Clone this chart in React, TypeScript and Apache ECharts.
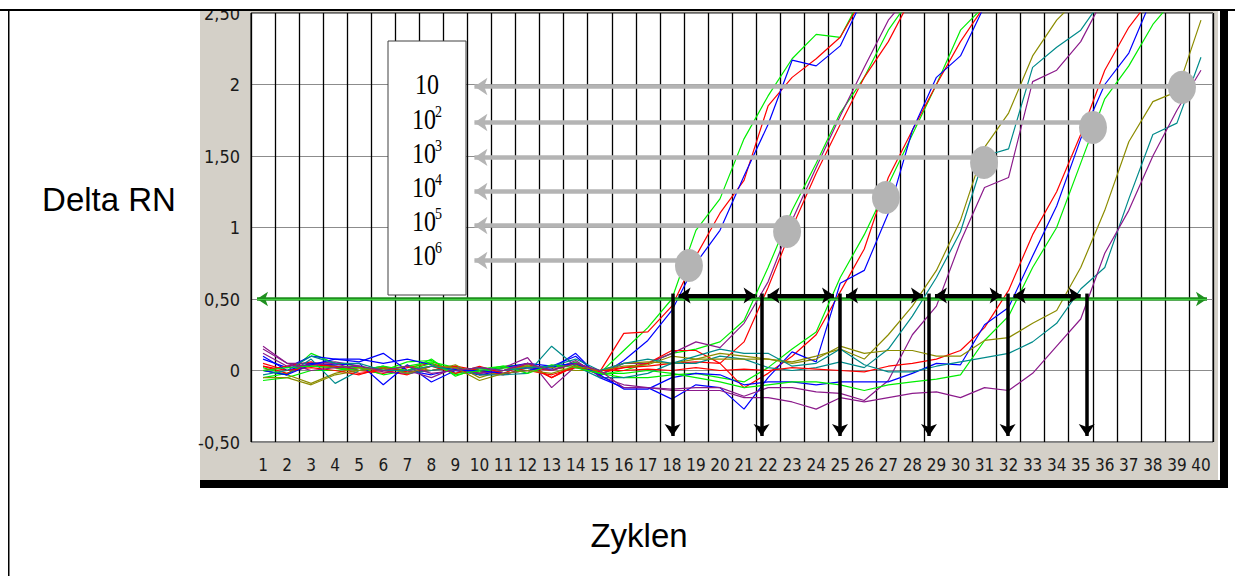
import React, { useEffect, useRef } from "react";
import * as echarts from "echarts";

// ---------- data ----------
const cycleLabels = [
  "1", "2", "3", "4", "5", "6", "7", "8", "9", "10",
  "11", "12", "13", "14", "15", "16", "17", "18", "19", "20",
  "21", "22", "23", "24", "25", "26", "27", "28", "29", "30",
  "31", "32", "33", "34", "35", "36", "37", "38", "39", "40",
];

// 10^6 dilution replicates
const d6Green = [0.02, -0.03, 0.12, 0.05, 0.03, 0.0, 0.06, 0.07, -0.02, 0.01, 0.03, 0.04, 0.0, 0.06, -0.02, 0.14, 0.3, 0.5, 0.98, 1.2, 1.62, 1.92, 2.18, 2.35, 2.33, 2.65];
const d6Red = [0.05, 0.0, 0.03, 0.02, 0.0, -0.02, 0.02, 0.05, 0.0, -0.02, 0.02, 0.03, -0.05, 0.04, -0.01, 0.26, 0.27, 0.45, 0.8, 1.1, 1.33, 1.85, 2.05, 2.18, 2.33, 2.62];
const d6Blue = [0.08, 0.02, 0.1, 0.08, 0.06, 0.12, 0.0, -0.03, 0.01, 0.0, 0.02, 0.05, 0.03, 0.1, -0.04, 0.07, 0.21, 0.42, 0.75, 0.98, 1.36, 1.72, 2.17, 2.13, 2.27, 2.62];
// 10^5
const d5Green = [-0.05, -0.02, 0.05, 0.03, 0.02, -0.03, 0.0, 0.08, -0.04, 0.02, 0.0, 0.03, 0.02, 0.05, -0.03, 0.0, 0.05, 0.12, 0.15, 0.2, 0.35, 0.72, 1.12, 1.45, 1.8, 2.05, 2.38, 2.62];
const d5Red = [0.0, 0.03, 0.06, 0.02, -0.02, 0.0, -0.03, 0.03, 0.02, -0.03, -0.02, 0.05, -0.05, 0.03, -0.02, 0.02, 0.03, 0.05, 0.06, 0.05, 0.2, 0.58, 1.0, 1.38, 1.72, 2.05, 2.3, 2.62];
const d5Purple = [0.17, 0.05, 0.05, 0.06, 0.03, -0.01, -0.02, 0.0, 0.03, -0.02, 0.02, 0.09, -0.12, 0.03, -0.03, 0.05, 0.05, 0.12, 0.2, 0.16, 0.33, 0.62, 1.05, 1.42, 1.78, 2.12, 2.45, 2.65];
// 10^4
const d4Green = [-0.07, -0.05, 0.0, 0.0, 0.02, 0.01, 0.03, 0.06, 0.02, -0.01, 0.02, 0.0, 0.03, 0.04, -0.02, -0.05, -0.05, -0.03, -0.02, -0.05, -0.08, 0.02, 0.15, 0.27, 0.65, 0.95, 1.3, 1.65, 2.0, 2.38, 2.55];
const d4Red = [0.03, -0.02, 0.04, 0.03, 0.0, 0.02, -0.01, 0.0, 0.03, 0.0, -0.03, 0.02, 0.0, 0.05, 0.0, 0.02, 0.05, 0.14, 0.14, 0.05, -0.12, -0.02, 0.1, 0.25, 0.55, 0.85, 1.35, 1.68, 2.0, 2.3, 2.55];
const d4Blue = [0.1, 0.0, 0.05, 0.04, 0.05, -0.1, 0.04, -0.08, 0.0, -0.03, 0.0, 0.02, 0.01, 0.12, -0.05, -0.12, -0.12, -0.2, -0.1, -0.12, -0.27, -0.05, 0.13, 0.06, 0.61, 0.7, 1.1, 1.68, 2.05, 2.2, 2.55];
// 10^3
const d3Olive = [0.0, -0.03, -0.09, -0.02, 0.02, 0.0, 0.03, 0.0, 0.04, -0.05, 0.0, 0.03, 0.02, 0.0, 0.0, 0.03, 0.04, 0.1, 0.08, 0.12, 0.1, 0.08, 0.06, 0.1, 0.15, 0.08, 0.25, 0.45, 0.7, 1.05, 1.56, 1.8, 2.2, 2.45, 2.62];
const d3Teal = [0.0, -0.03, 0.08, -0.09, 0.0, 0.03, -0.02, 0.0, 0.02, -0.03, -0.03, -0.02, 0.17, 0.03, -0.05, -0.05, -0.02, 0.05, 0.05, 0.1, 0.08, 0.02, 0.0, 0.02, 0.06, 0.02, 0.15, 0.38, 0.65, 0.97, 1.5, 1.55, 2.12, 2.26, 2.38, 2.62];
const d3Purple = [0.12, 0.03, 0.04, 0.05, 0.0, 0.02, 0.0, -0.05, 0.02, -0.02, 0.0, 0.05, 0.0, 0.07, -0.04, -0.1, -0.12, -0.13, -0.12, -0.12, -0.18, -0.12, -0.12, -0.15, -0.16, -0.21, -0.07, 0.25, 0.45, 0.9, 1.28, 1.35, 2.02, 2.1, 2.3, 2.62];
// 10^2
const d2Red = [0.03, 0.0, 0.02, 0.0, -0.03, 0.02, 0.0, 0.03, -0.02, 0.03, -0.02, 0.0, -0.03, 0.02, 0.0, 0.0, 0.01, 0.0, 0.02, 0.0, 0.01, 0.0, 0.02, 0.01, 0.0, -0.01, 0.03, 0.05, 0.08, 0.14, 0.3, 0.56, 0.95, 1.25, 1.65, 2.1, 2.4, 2.62];
const d2Blue = [0.0, -0.03, 0.04, 0.08, 0.08, 0.05, 0.08, 0.04, 0.0, 0.0, -0.02, 0.0, 0.03, 0.05, -0.03, -0.13, -0.13, -0.05, -0.02, -0.03, -0.1, -0.08, -0.08, -0.1, -0.08, -0.08, -0.08, -0.02, 0.05, 0.04, 0.32, 0.44, 0.8, 1.15, 1.62, 2.0, 2.22, 2.62];
const d2Green = [0.0, 0.02, 0.03, 0.02, 0.0, 0.03, 0.0, 0.05, -0.03, 0.0, 0.03, -0.02, 0.04, 0.02, -0.02, -0.02, 0.0, -0.02, -0.05, -0.08, -0.12, -0.1, -0.08, -0.08, -0.1, -0.14, -0.1, -0.08, -0.06, -0.03, 0.21, 0.38, 0.72, 1.0, 1.45, 1.9, 2.13, 2.42, 2.62];
// 10^1
const d1Olive = [-0.05, -0.05, -0.1, -0.03, 0.0, 0.02, -0.02, 0.03, 0.02, -0.07, -0.02, 0.0, -0.02, 0.03, 0.0, 0.05, 0.06, 0.05, 0.08, 0.08, 0.08, 0.08, 0.05, 0.08, 0.17, 0.12, 0.14, 0.14, 0.1, 0.1, 0.21, 0.23, 0.33, 0.42, 0.72, 1.12, 1.6, 1.88, 1.95, 2.45];
const d1Teal = [-0.03, 0.0, 0.1, 0.05, 0.05, 0.0, 0.0, 0.03, 0.0, 0.02, 0.0, 0.02, 0.03, 0.08, 0.0, 0.05, 0.08, 0.05, 0.1, 0.15, 0.12, 0.12, 0.03, 0.05, 0.15, 0.04, -0.01, -0.01, 0.03, 0.06, 0.09, 0.12, 0.2, 0.33, 0.57, 0.72, 1.2, 1.65, 1.73, 2.19];
const d1Purple = [0.15, 0.05, 0.0, 0.02, 0.03, 0.0, 0.03, -0.02, 0.0, 0.02, 0.0, 0.05, 0.0, 0.05, 0.0, -0.12, -0.12, -0.14, -0.14, -0.14, -0.19, -0.19, -0.22, -0.27, -0.19, -0.22, -0.19, -0.16, -0.15, -0.19, -0.12, -0.14, -0.02, 0.17, 0.36, 0.82, 1.12, 1.5, 1.82, 2.1];

const GREEN = "#00ee00";
const RED = "#ff0000";
const BLUE = "#0000ff";
const PURPLE = "#8b1a8b";
const OLIVE = "#8c8c00";
const TEAL = "#008b8b";

const curves = [
  { name: "1e6 green", color: GREEN, values: d6Green },
  { name: "1e6 red", color: RED, values: d6Red },
  { name: "1e6 blue", color: BLUE, values: d6Blue },
  { name: "1e5 green", color: GREEN, values: d5Green },
  { name: "1e5 red", color: RED, values: d5Red },
  { name: "1e5 purple", color: PURPLE, values: d5Purple },
  { name: "1e4 green", color: GREEN, values: d4Green },
  { name: "1e4 red", color: RED, values: d4Red },
  { name: "1e4 blue", color: BLUE, values: d4Blue },
  { name: "1e3 olive", color: OLIVE, values: d3Olive },
  { name: "1e3 teal", color: TEAL, values: d3Teal },
  { name: "1e3 purple", color: PURPLE, values: d3Purple },
  { name: "1e2 red", color: RED, values: d2Red },
  { name: "1e2 blue", color: BLUE, values: d2Blue },
  { name: "1e2 green", color: GREEN, values: d2Green },
  { name: "1e1 olive", color: OLIVE, values: d1Olive },
  { name: "1e1 teal", color: TEAL, values: d1Teal },
  { name: "1e1 purple", color: PURPLE, values: d1Purple },
];

// annotation values (in cycles / Delta RN)
const thresholdValue = 0.5;
const ctValues = [18.03, 21.73, 24.99, 28.69, 31.96, 35.25];
const ctArrowLevel = 0.524;
const ctArrowBottom = -0.5;
// legend rows top to bottom: 10, 10^2 ... 10^6
const legendBase = ["10", "10", "10", "10", "10", "10"];
const legendExp = ["", "2", "3", "4", "5", "6"];
const markerCycles = [39.21, 35.51, 30.98, 26.9, 22.79, 18.71];
const markerValues = [1.98, 1.7, 1.455, 1.21, 0.972, 0.734];
const pointerLevels = [1.986, 1.734, 1.49, 1.252, 1.014, 0.769];
const pointerTip = 9.52;

// ---------- layout helpers ----------
const PLOT_L = 251;
const PLOT_R = 1213;
const PLOT_T = 13;
const PLOT_B = 442;
const PX_PER_CYCLE = (PLOT_R - PLOT_L) / 40;
const PX_PER_UNIT = (PLOT_B - PLOT_T) / 3;
const cyc = (px: number) => px / PX_PER_CYCLE;
const unit = (px: number) => px / PX_PER_UNIT;

const NARROW = "'Liberation Sans Narrow', 'DejaVu Sans Condensed', 'Liberation Sans', sans-serif";

function buildOption() {
  const lineSeries = curves.map((c) => ({
    name: c.name,
    type: "line",
    xAxisIndex: 0,
    yAxisIndex: 0,
    data: c.values,
    showSymbol: false,
    symbol: "none",
    clip: true,
    z: 2,
    silent: true,
    lineStyle: { color: c.color, width: 1.2 },
    itemStyle: { color: c.color },
  }));

  const arrowInsetG = cyc(6);
  const thresholdSeries = {
    type: "lines",
    coordinateSystem: "cartesian2d",
    xAxisIndex: 1,
    yAxisIndex: 0,
    z: 3,
    silent: true,
    clip: false,
    symbol: ["arrow", "arrow"],
    symbolSize: 11,
    lineStyle: { color: "#1f8f1f", width: 3.5, opacity: 1, curveness: 0 },
    data: [
      { coords: [[0.5 + arrowInsetG, thresholdValue], [40.5 - arrowInsetG, thresholdValue]] },
    ],
  };
  const thresholdInner = {
    type: "lines",
    coordinateSystem: "cartesian2d",
    xAxisIndex: 1,
    yAxisIndex: 0,
    z: 3,
    silent: true,
    clip: false,
    symbol: ["none", "none"],
    lineStyle: { color: "#3fcf3f", width: 1.2, opacity: 1, curveness: 0 },
    data: [
      { coords: [[0.5 + arrowInsetG, thresholdValue], [40.5 - arrowInsetG, thresholdValue]] },
    ],
  };

  const hInset = cyc(6);
  const ctHorizontal = {
    type: "lines",
    coordinateSystem: "cartesian2d",
    xAxisIndex: 1,
    yAxisIndex: 0,
    z: 4,
    silent: true,
    clip: false,
    symbol: ["arrow", "arrow"],
    symbolSize: 12,
    lineStyle: { color: "#000", width: 4, opacity: 1, curveness: 0 },
    data: ctValues.slice(0, -1).map((ct, i) => ({
      coords: [[ct + hInset, ctArrowLevel], [ctValues[i + 1] - hInset, ctArrowLevel]],
    })),
  };
  const ctVertical = {
    type: "lines",
    coordinateSystem: "cartesian2d",
    xAxisIndex: 1,
    yAxisIndex: 0,
    z: 4,
    silent: true,
    clip: false,
    symbol: ["none", "arrow"],
    symbolSize: 12,
    lineStyle: { color: "#000", width: 3.5, opacity: 1, curveness: 0 },
    data: ctValues.map((ct) => ({
      coords: [[ct, ctArrowLevel + unit(2)], [ct, ctArrowBottom + unit(6)]],
    })),
  };
  const pointers = {
    type: "lines",
    coordinateSystem: "cartesian2d",
    xAxisIndex: 1,
    yAxisIndex: 0,
    z: 5,
    silent: true,
    clip: false,
    symbol: ["arrow", "none"],
    symbolSize: 13,
    lineStyle: { color: "#b4b4b4", width: 4.5, opacity: 1, curveness: 0 },
    data: pointerLevels.map((lv, i) => ({
      coords: [[pointerTip + cyc(6.5), lv], [markerCycles[i], lv]],
    })),
  };
  const markers = {
    type: "scatter",
    xAxisIndex: 1,
    yAxisIndex: 0,
    z: 6,
    silent: true,
    symbol: "circle",
    symbolSize: [28, 33],
    itemStyle: { color: "#b4b4b4", opacity: 1 },
    data: markerCycles.map((c, i) => [c, markerValues[i]]),
  };

  // legend box texts
  const rowY = [84, 119, 153, 187, 221, 255];
  const legendTexts: any[] = [];
  legendBase.forEach((b, i) => {
    const hasExp = legendExp[i] !== "";
    legendTexts.push({
      type: "text",
      x: hasExp ? 412 : 415,
      y: rowY[i],
      scaleY: 1.2,
      z: 60,
      silent: true,
      style: {
        text: b,
        fontFamily: "'Liberation Serif', 'DejaVu Serif', serif",
        fontSize: 24,
        fill: "#000",
        align: "left",
        verticalAlign: "middle",
        textAlign: "left",
        textVerticalAlign: "middle",
      },
    });
    if (hasExp) {
      legendTexts.push({
        type: "text",
        x: 435,
        y: rowY[i] - 7,
        scaleY: 1.15,
        z: 60,
        silent: true,
        style: {
          text: legendExp[i],
          fontFamily: "'Liberation Serif', 'DejaVu Serif', serif",
          fontSize: 14,
          fill: "#000",
          align: "left",
          verticalAlign: "middle",
          textAlign: "left",
          textVerticalAlign: "middle",
        },
      });
    }
  });

  const graphic: any[] = [
    { type: "rect", z: -10, silent: true, shape: { x: 200, y: 10, width: 1018, height: 470 }, style: { fill: "#d4d0c8" } },
    { type: "rect", z: -10, silent: true, shape: { x: 200, y: 480, width: 1028, height: 8 }, style: { fill: "#000" } },
    { type: "rect", z: -10, silent: true, shape: { x: 1220, y: 10, width: 8, height: 478 }, style: { fill: "#000" } },
    { type: "rect", z: 100, silent: true, shape: { x: 0, y: 0, width: 1235, height: 9 }, style: { fill: "#fff" } },
    { type: "rect", z: 100, silent: true, shape: { x: 0, y: 9, width: 1235, height: 2 }, style: { fill: "#000" } },
    { type: "rect", z: 100, silent: true, shape: { x: 8, y: 10, width: 1.5, height: 566 }, style: { fill: "#000" } },
    {
      type: "rect",
      z: 50,
      silent: true,
      shape: { x: 388, y: 41, width: 78, height: 254 },
      style: { fill: "#fff", stroke: "#404040", lineWidth: 1 },
    },
    ...legendTexts,
    {
      type: "text",
      x: 109,
      y: 199,
      z: 60,
      silent: true,
      style: {
        text: "Delta RN",
        fontFamily: "'Liberation Sans', Arial, sans-serif",
        fontSize: 33,
        fill: "#000",
        align: "center",
        verticalAlign: "middle",
        textAlign: "center",
        textVerticalAlign: "middle",
      },
    },
    {
      type: "text",
      x: 639,
      y: 535,
      z: 60,
      silent: true,
      style: {
        text: "Zyklen",
        fontFamily: "'Liberation Sans', Arial, sans-serif",
        fontSize: 33,
        fill: "#000",
        align: "center",
        verticalAlign: "middle",
        textAlign: "center",
        textVerticalAlign: "middle",
      },
    },
  ];

  return {
    animation: false,
    backgroundColor: "#ffffff",
    grid: {
      left: PLOT_L,
      right: 1235 - PLOT_R,
      top: PLOT_T,
      bottom: 576 - PLOT_B,
      show: true,
      backgroundColor: "#ffffff",
      borderColor: "#000",
      borderWidth: 1,
    },
    xAxis: [
      {
        type: "category",
        data: cycleLabels,
        boundaryGap: true,
        axisLine: { show: false },
        axisTick: { show: false },
        axisLabel: { interval: 0, fontFamily: NARROW, fontSize: 17, color: "#1a1a1a", margin: 14 },
        splitLine: { show: true, interval: 0, lineStyle: { color: "#000", width: 1.3 } },
      },
      { type: "value", min: 0.5, max: 40.5, show: false },
    ],
    yAxis: {
      type: "value",
      min: -0.5,
      max: 2.5,
      interval: 0.5,
      axisLine: { show: false },
      axisTick: { show: false },
      axisLabel: {
        fontFamily: NARROW,
        fontSize: 18,
        color: "#1a1a1a",
        margin: 11,
        formatter: (v: number) => (Number.isInteger(v) ? String(v) : v.toFixed(2).replace(".", ",")),
      },
      splitLine: { show: true, lineStyle: { color: "#8c8c8c", width: 1 } },
    },
    graphic,
    series: [...lineSeries, thresholdSeries, thresholdInner, ctHorizontal, ctVertical, pointers, markers],
  };
}

export default function App() {
  const ref = useRef<HTMLDivElement>(null);
  useEffect(() => {
    if (!ref.current) return;
    const chart = echarts.init(ref.current, undefined, { renderer: "svg" });
    chart.setOption(buildOption() as any);
    return () => chart.dispose();
  }, []);
  return (
    <div
      ref={ref}
      style={{ position: "fixed", left: 0, top: 0, width: 1235, height: 576, background: "#fff" }}
    />
  );
}
